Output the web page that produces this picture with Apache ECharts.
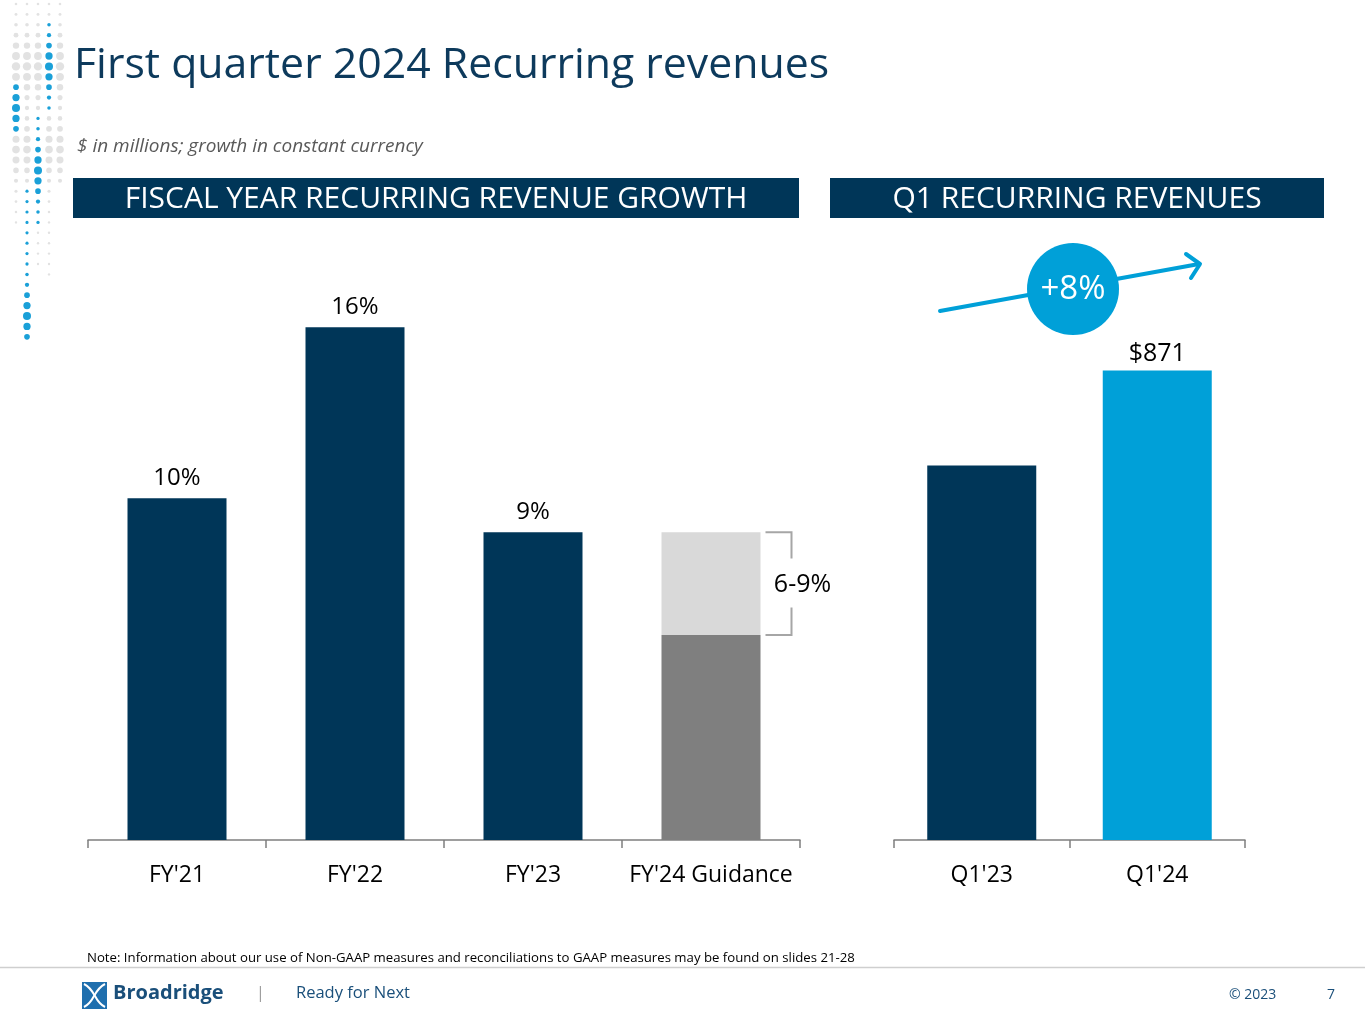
<!DOCTYPE html>
<html>
<head>
<meta charset="utf-8">
<title>First quarter 2024 Recurring revenues</title>
<script src="https://cdn.jsdelivr.net/npm/echarts@6/dist/echarts.min.js"></script>
<style>
  html, body { margin: 0; padding: 0; background: #fff; }
  #main { width: 1365px; height: 1024px; }
</style>
</head>
<body>
<div id="main"></div>
<script>
// fiscal year growth (bar heights, in %)
var fyCats = ["FY'21", "FY'22", "FY'23", "FY'24 Guidance"];
var fyValues = [10, 15, 9, 6];
var fyLabels = ['10%', '16%', '9%', ''];
var guideLow = 6;
var guideHigh = 9;
var guideText = '6-9%';

// Q1 recurring revenues ($ millions)
var qCats = ["Q1'23", "Q1'24"];
var qValues = [806, 871];
var qLabels = ['', '$871'];
var growthText = '+8%';

var NAVY = '#003658';
var BLUE = '#00a0d8';
var FONT = 'Open Sans';

var chart = echarts.init(document.getElementById('main'));

// decorative dot column at top left
function dots () {
  var out = [];
  var cols = [16, 27, 38, 49, 60];
  // blue runs per column [from row, to row]
  var blue = { 16: [8, 12], 27: [18, 32], 38: [11, 21], 49: [2, 10] };
  var grayEnd = { 16: 21, 27: 17, 38: 25, 49: 26, 60: 17 };
  for (var c = 0; c < cols.length; c++) {
    var x = cols[c];
    for (var r = 0; r < 33; r++) {
      var y = 4 + r * 10.4;
      var b = blue[x];
      var isBlue = b && r >= b[0] && r <= b[1];
      var rad, color;
      if (isBlue) {
        var mid = (b[0] + b[1]) / 2;
        if (x === 27) mid = 30;
        rad = 1.6 + 2.4 * Math.exp(-Math.pow(r - mid, 2) / 6);
        color = '#1aa0d8';
      } else {
        if (r > grayEnd[x]) continue;
        rad = 1.2 + 3 * Math.exp(-Math.pow(r - 6, 2) / 10) + 2.6 * Math.exp(-Math.pow(r - 14, 2) / 8);
        color = '#e2e2e2';
      }
      out.push({ type: 'circle', silent: true, shape: { cx: x, cy: y, r: rad }, style: { fill: color } });
    }
  }
  return out;
}

var graphics = dots().concat([
  { type: 'text', left: 74, top: 44, style: { text: 'First quarter 2024 Recurring revenues', fill: '#0d3a5c', font: '42.8px "' + FONT + '"' } },
  { type: 'text', left: 77, top: 137, style: { text: '$ in millions; growth in constant currency', fill: '#595959', font: 'italic 19px "' + FONT + '"' } },
  { type: 'rect', shape: { x: 73, y: 178, width: 726, height: 40 }, style: { fill: NAVY } },
  { type: 'text', x: 436, y: 199, style: { text: 'FISCAL YEAR RECURRING REVENUE GROWTH', fill: '#fff', font: '30px "' + FONT + '"', textAlign: 'center', textVerticalAlign: 'middle' } },
  { type: 'rect', shape: { x: 830, y: 178, width: 494, height: 40 }, style: { fill: NAVY } },
  { type: 'text', x: 1077, y: 199, style: { text: 'Q1 RECURRING REVENUES', fill: '#fff', font: '30px "' + FONT + '"', textAlign: 'center', textVerticalAlign: 'middle' } },
  // growth arrow
  { type: 'line', shape: { x1: 940, y1: 311, x2: 1199, y2: 264 }, style: { stroke: BLUE, lineWidth: 4, lineCap: 'round' } },
  { type: 'polyline', shape: { points: [[1186, 254], [1200, 264], [1191, 278]] }, style: { stroke: BLUE, lineWidth: 4, fill: null, lineCap: 'round', lineJoin: 'round' } },
  { type: 'circle', shape: { cx: 1073, cy: 289, r: 46 }, style: { fill: BLUE } },
  { type: 'text', x: 1073, y: 290, style: { text: growthText, fill: '#fff', font: '33px "' + FONT + '"', textAlign: 'center', textVerticalAlign: 'middle' } },
  // footer
  { type: 'text', left: 87, top: 952, style: { text: 'Note: Information about our use of Non-GAAP measures and reconciliations to GAAP measures may be found on slides 21-28', fill: '#000', font: '13.2px "' + FONT + '"' } },
  { type: 'line', shape: { x1: 0, y1: 967.5, x2: 1365, y2: 967.5 }, style: { stroke: '#cfcfcf', lineWidth: 1.5 } },
  { type: 'rect', shape: { x: 82, y: 982, width: 25, height: 27 }, style: { fill: '#1f6fae' } },
  { type: 'bezierCurve', shape: { x1: 84, y1: 984, x2: 105, y2: 1007, cpx1: 96, cpy1: 990, cpx2: 94, cpy2: 1002 }, style: { stroke: '#fff', lineWidth: 2, fill: null } },
  { type: 'bezierCurve', shape: { x1: 105, y1: 984, x2: 84, y2: 1007, cpx1: 93, cpy1: 990, cpx2: 95, cpy2: 1002 }, style: { stroke: '#fff', lineWidth: 2, fill: null } },
  { type: 'text', left: 113, top: 983, style: { text: 'Broadridge', fill: '#1a4f7a', font: 'bold 20px "' + FONT + '"' } },
  { type: 'text', left: 256, top: 985, style: { text: '|', fill: '#9a9a9a', font: '16px "' + FONT + '"' } },
  { type: 'text', left: 296, top: 985, style: { text: 'Ready for Next', fill: '#1a4f7a', font: '16.5px "' + FONT + '"' } },
  { type: 'text', left: 1229, top: 988, style: { text: '\u00a9 2023', fill: '#1a4f7a', font: '14px "' + FONT + '"' } },
  { type: 'text', left: 1327, top: 988, style: { text: '7', fill: '#1a4f7a', font: '14px "' + FONT + '"' } }
]);

var axisStyle = {
  axisLine: { lineStyle: { color: '#7f7f7f', width: 1.5 } },
  axisTick: { show: true, length: 8, lineStyle: { color: '#7f7f7f', width: 1.5 } },
  axisLabel: { color: '#000', fontSize: 23, fontFamily: FONT, margin: 24, interval: 0 }
};

var option = {
  animation: false,
  textStyle: { fontFamily: FONT },
  grid: [
    { left: 88, width: 712, top: 293, height: 547 },
    { left: 894, width: 351, top: 328, height: 512 }
  ],
  xAxis: [
    Object.assign({ type: 'category', gridIndex: 0, data: fyCats }, axisStyle),
    Object.assign({ type: 'category', gridIndex: 1, data: qCats }, axisStyle)
  ],
  yAxis: [
    { type: 'value', gridIndex: 0, min: 0, max: 16, show: false },
    { type: 'value', gridIndex: 1, min: 550, max: 900, show: false }
  ],
  graphic: graphics,
  series: [
    {
      type: 'bar', xAxisIndex: 0, yAxisIndex: 0, stack: 'fy', barWidth: 99,
      data: fyValues.map(function (v, i) {
        return { value: v, itemStyle: { color: i === 3 ? '#7f7f7f' : NAVY } };
      }),
      label: {
        show: true, position: 'top', distance: 8, color: '#000', fontSize: 24, fontFamily: FONT,
        formatter: function (p) { return fyLabels[p.dataIndex]; }
      }
    },
    {
      type: 'bar', xAxisIndex: 0, yAxisIndex: 0, stack: 'fy', barWidth: 99,
      itemStyle: { color: '#d9d9d9' },
      data: fyCats.map(function (c, i) { return i === 3 ? guideHigh - guideLow : 0; })
    },
    {
      // bracket beside the guidance range
      type: 'custom', xAxisIndex: 0, yAxisIndex: 0, silent: true,
      data: [[3, guideLow, guideHigh]],
      renderItem: function (params, api) {
        var lo = api.coord([api.value(0), api.value(1)]);
        var hi = api.coord([api.value(0), api.value(2)]);
        var x0 = lo[0] + 49.5 + 5;
        var x1 = x0 + 26;
        var mid = (lo[1] + hi[1]) / 2;
        var st = { stroke: '#a6a6a6', lineWidth: 2, fill: null };
        return {
          type: 'group',
          children: [
            { type: 'polyline', shape: { points: [[x0, hi[1]], [x1, hi[1]], [x1, mid - 25]] }, style: st },
            { type: 'polyline', shape: { points: [[x1, mid + 24], [x1, lo[1]], [x0, lo[1]]] }, style: st },
            { type: 'text', x: x1 + 11, y: mid + 1, style: { text: guideText, fill: '#000', font: '25px "' + FONT + '"', textAlign: 'center', textVerticalAlign: 'middle' } }
          ]
        };
      }
    },
    {
      type: 'bar', xAxisIndex: 1, yAxisIndex: 1, barWidth: 109,
      data: qValues.map(function (v, i) {
        return { value: v, itemStyle: { color: i === 1 ? BLUE : NAVY } };
      }),
      label: {
        show: true, position: 'top', distance: 4, color: '#000', fontSize: 25, fontFamily: FONT,
        formatter: function (p) { return qLabels[p.dataIndex]; }
      }
    }
  ]
};

chart.setOption(option);
</script>
</body>
</html>
